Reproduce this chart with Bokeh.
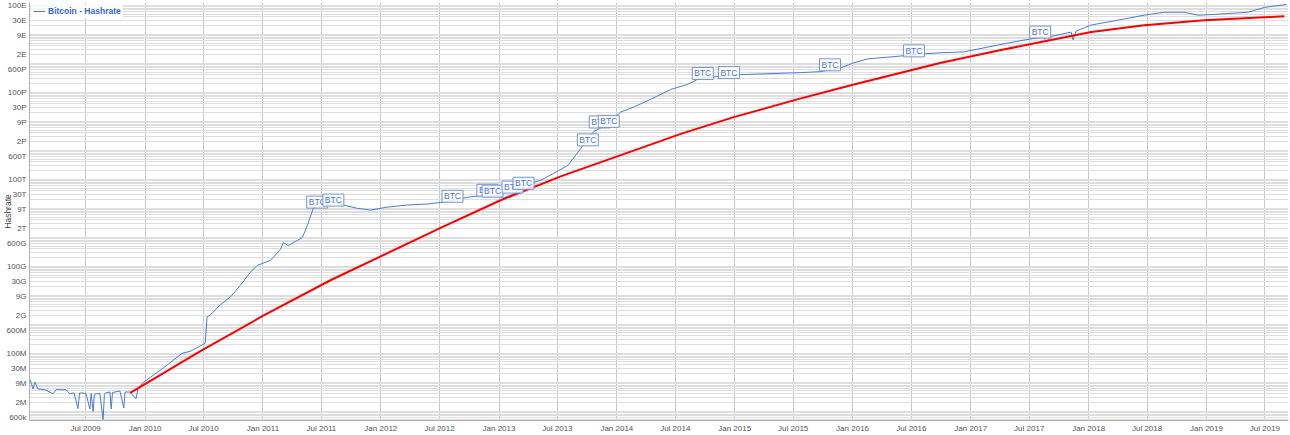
import numpy as np
import pandas as pd
from bokeh.plotting import figure
from bokeh.models import FixedTicker, Grid, CustomJSTickFormatter, Range1d
from bokeh.core.properties import value
from bokeh.embed import file_html
from bokeh.resources import INLINE

# ---------------- data ----------------
BLUE_DATES = [
    "2009-01-09", "2009-01-19", "2009-01-25", "2009-02-03", "2009-02-25", "2009-03-22",
    "2009-04-01", "2009-04-12", "2009-05-01", "2009-05-13", "2009-05-26", "2009-06-07",
    "2009-06-12", "2009-06-20", "2009-07-02", "2009-07-14", "2009-07-18", "2009-07-24",
    "2009-07-28", "2009-08-02", "2009-08-14", "2009-08-24", "2009-08-28", "2009-09-02",
    "2009-09-14", "2009-09-18", "2009-09-22", "2009-09-30", "2009-10-15", "2009-10-27",
    "2009-10-31", "2009-11-15", "2009-12-04", "2009-12-10", "2009-12-16", "2010-01-01",
    "2010-02-26", "2010-04-26", "2010-05-21", "2010-07-06", "2010-07-12", "2010-07-22",
    "2010-08-22", "2010-09-22", "2010-10-23", "2010-11-23", "2010-12-14", "2011-01-24",
    "2011-02-24", "2011-03-05", "2011-03-20", "2011-04-17", "2011-05-03", "2011-05-18",
    "2011-06-06", "2011-06-21", "2011-07-29", "2011-09-07", "2011-10-20", "2011-11-30",
    "2012-01-21", "2012-03-23", "2012-05-24", "2012-07-13", "2012-08-13", "2012-09-25",
    "2012-11-14", "2012-12-15", "2013-01-15", "2013-02-15", "2013-03-30", "2013-05-10",
    "2013-06-19", "2013-08-02", "2013-09-11", "2013-10-21", "2013-12-04", "2014-01-13",
    "2014-02-22", "2014-04-16", "2014-06-17", "2014-08-09", "2014-09-18", "2014-11-10",
    "2015-01-20", "2015-04-14", "2015-07-25", "2015-09-25", "2015-11-26", "2016-01-05",
    "2016-02-18", "2016-05-08", "2016-07-09", "2016-09-22", "2016-12-11", "2017-03-27",
    "2017-06-15", "2017-08-16", "2017-08-22", "2017-09-06", "2017-11-08", "2017-11-14",
    "2017-11-23", "2018-01-09", "2018-04-02", "2018-06-22", "2018-08-23", "2018-10-24",
    "2018-12-06", "2019-01-25", "2019-05-10", "2019-06-29", "2019-09-05",
]
BLUE_HASHRATE = [
    1.3e7, 5.9e6, 1.0e7, 5.9e6, 5.5e6, 4.0e6,
    5.6e6, 5.5e6, 5.5e6, 4.0e6, 4.3e6, 1.23e6,
    4.2e6, 4.3e6, 4.0e6, 1.2e6, 4.1e6, 9.7e5,
    3.8e6, 4.0e6, 4.0e6, 5.2e5, 3.9e6, 4.3e6,
    4.6e6, 1.2e6, 4.4e6, 4.6e6, 5.0e6, 1.3e6,
    4.6e6, 4.6e6, 2.7e6, 6.3e6, 7.5e6, 1.1e7,
    3.07e7, 1.0e8, 1.17e8, 2.2e8, 1.82e9, 2.1e9,
    4.7e9, 8.7e9, 2.2e10, 6.2e10, 1.07e11, 1.6e11,
    3.8e11, 6.6e11, 5.2e11, 7.7e11, 9.8e11, 2.5e12,
    1.0e13, 1.5e13, 1.78e13, 1.3e13, 1.0e13, 8.7e12,
    1.1e13, 1.3e13, 1.4e13, 1.65e13, 1.9e13, 2.4e13,
    2.8e13, 3.1e13, 2.3e13, 3.1e13, 6.8e13, 9.3e13,
    1.6e14, 3.0e14, 1.15e15, 4.4e15, 8.1e15, 2.1e16,
    3.1e16, 5.8e16, 1.26e17, 1.9e17, 3.2e17, 3.5e17,
    4.1e17, 4.4e17, 4.8e17, 5.2e17, 7.1e17, 1.05e18,
    1.44e18, 1.7e18, 2.0e18, 2.3e18, 2.5e18, 4.3e18,
    6.4e18, 8.1e18, 5.5e18, 8.5e18, 1.2e19, 6.4e18,
    1.3e19, 2.1e19, 3.1e19, 4.6e19, 5.8e19, 5.8e19,
    4.6e19, 4.9e19, 5.8e19, 8.5e19, 1.08e20,
]

RED_DATES = [
    "2009-11-16", "2010-06-20", "2011-01-02", "2011-07-29", "2012-07-04", "2013-01-06",
    "2013-07-11", "2014-02-13", "2014-07-18", "2014-12-29", "2015-07-25", "2016-01-05",
    "2016-10-01", "2017-04-05", "2018-01-09", "2018-06-22", "2018-12-25", "2019-06-29",
    "2019-08-30",
]
RED_TREND = [
    4.3e6, 1.17e8, 1.97e9, 3.3e10, 2.1e12, 1.9e13,
    1.26e14, 9.0e14, 3.7e15, 1.4e16, 6.2e16, 1.87e17,
    1.05e18, 2.9e18, 1.2e19, 2.08e19, 3.08e19, 3.9e19,
    4.2e19,
]

FLAG_DATES = [
    "2011-06-18", "2011-08-07", "2012-08-10", "2012-11-26", "2012-12-12", "2013-02-12",
    "2013-03-18", "2013-10-03", "2013-11-09", "2013-12-07", "2014-09-24", "2014-12-14",
    "2015-10-23", "2016-07-09", "2017-08-04",
]
FLAG_VALUES = [
    1.64e13, 1.92e13, 2.6e13, 4.2e13, 3.9e13, 5.4e13,
    7.3e13, 2.3e15, 9.5e15, 1.0e16, 4.5e17, 4.8e17,
    8.9e17, 2.7e18, 1.2e19,
]
FLAG_TEXT = "BTC"

Y_TICKS = [6e5, 2e6, 9e6, 3e7, 1e8, 6e8, 2e9, 9e9, 3e10, 1e11, 6e11, 2e12, 9e12,
           3e13, 1e14, 6e14, 2e15, 9e15, 3e16, 1e17, 6e17, 2e18, 9e18, 3e19, 1e20]
Y_LABELS = ["600k", "2M", "9M", "30M", "100M", "600M", "2G", "9G", "30G", "100G",
            "600G", "2T", "9T", "30T", "100T", "600T", "2P", "9P", "30P", "100P",
            "600P", "2E", "9E", "30E", "100E"]

X_TICK_DATES = ["2009-07-01", "2010-01-01", "2010-07-01", "2011-01-01", "2011-07-01",
                "2012-01-01", "2012-07-01", "2013-01-01", "2013-07-01", "2014-01-01",
                "2014-07-01", "2015-01-01", "2015-07-01", "2016-01-01", "2016-07-01",
                "2017-01-01", "2017-07-01", "2018-01-01", "2018-07-01", "2019-01-01",
                "2019-07-01"]
X_TICK_LABELS = ["Jul 2009", "Jan 2010", "Jul 2010", "Jan 2011", "Jul 2011",
                 "Jan 2012", "Jul 2012", "Jan 2013", "Jul 2013", "Jan 2014",
                 "Jul 2014", "Jan 2015", "Jul 2015", "Jan 2016", "Jul 2016",
                 "Jan 2017", "Jul 2017", "Jan 2018", "Jul 2018", "Jan 2019",
                 "Jul 2019"]

SERIES_NAME = "Bitcoin - Hashrate"
Y_TITLE = "Hashrate"


def to_ms(ds):
    return pd.to_datetime(ds).values.astype("datetime64[ms]").astype("int64").astype(float)


bx = to_ms(BLUE_DATES)
rx = to_ms(RED_DATES)
fx = to_ms(FLAG_DATES)
xt = to_ms(X_TICK_DATES)

X_START = to_ms(["2009-01-08"])[0]
X_END = to_ms(["2019-09-12"])[0]

FONT = "Liberation Sans"
BLUE = "#4a7bd8"
FLAG_LINE = "#7393d9"
FLAG_TXT = "#4f77cc"

p = figure(width=1290, height=435, x_axis_type="datetime", y_axis_type="log",
           output_backend="svg", toolbar_location=None,
           x_range=Range1d(X_START, X_END), y_range=Range1d(10 ** 5.68, 10 ** 20.1),
           min_border_left=2, min_border_right=2, min_border_top=2, min_border_bottom=0)

p.background_fill_color = "white"
p.outline_line_color = None

# grids
p.xgrid.ticker = FixedTicker(ticks=list(xt))
p.xgrid.grid_line_color = "#c8c8c8"
p.ygrid.grid_line_color = None
minor_vals = [m * 10.0 ** k for k in range(5, 21) for m in range(1, 10)]
hgrid = Grid(dimension=1, ticker=FixedTicker(ticks=minor_vals),
             grid_line_color="#dedede", grid_line_width=1)
p.add_layout(hgrid)

# axes
p.yaxis.ticker = FixedTicker(ticks=Y_TICKS)
p.yaxis.formatter = CustomJSTickFormatter(args=dict(vals=Y_TICKS, labs=Y_LABELS), code="""
    let best = 0, bd = 1e9;
    for (let i = 0; i < vals.length; i++) {
        const d = Math.abs(Math.log10(tick) - Math.log10(vals[i]));
        if (d < bd) { bd = d; best = i; }
    }
    return labs[best];
""")
p.xaxis.ticker = FixedTicker(ticks=list(xt))
p.xaxis.formatter = CustomJSTickFormatter(args=dict(vals=list(xt), labs=X_TICK_LABELS), code="""
    let best = 0, bd = 1e20;
    for (let i = 0; i < vals.length; i++) {
        const d = Math.abs(tick - vals[i]);
        if (d < bd) { bd = d; best = i; }
    }
    return labs[best];
""")
for ax in (p.xaxis[0], p.yaxis[0]):
    ax.major_label_text_font = FONT
    ax.major_label_text_font_size = "8px"
    ax.major_label_text_color = "#555555"
    ax.major_tick_out = 0
    ax.major_tick_in = 0
    ax.minor_tick_out = 0
    ax.minor_tick_in = 0
    ax.axis_line_color = "#b0b0b0"
p.yaxis.major_label_standoff = 3
p.xaxis.major_label_standoff = 3

p.yaxis.axis_label = Y_TITLE
p.yaxis.axis_label_text_font = FONT
p.yaxis.axis_label_text_font_size = "8.5px"
p.yaxis.axis_label_text_font_style = "normal"
p.yaxis.axis_label_text_color = "#444444"
p.yaxis.axis_label_standoff = -10

# series
p.line(bx, BLUE_HASHRATE, line_color=BLUE, line_width=1, legend_label=SERIES_NAME)
p.line(rx, RED_TREND, line_color="#ff0000", line_width=2)

# flags
for i in range(len(fx)):
    p.rect(x=[fx[i]], y=[FLAG_VALUES[i]], width=21, height=12,
           width_units="screen", height_units="screen",
           fill_color="white", fill_alpha=0.8, line_color=FLAG_LINE, line_width=1)
    p.text(x=[fx[i]], y=[FLAG_VALUES[i]], text=[FLAG_TEXT], text_align="center",
           text_baseline="middle", text_font=value(FONT), text_font_size="8.5px",
           text_color=FLAG_TXT)

# legend
lg = p.legend[0]
lg.location = "top_left"
lg.margin = 2
lg.padding = 2
lg.spacing = 0
lg.label_text_font = FONT
lg.label_text_font_size = "8.5px"
lg.label_text_font_style = "bold"
lg.label_text_color = "#3a68c8"
lg.label_standoff = 3
lg.label_height = 10
lg.glyph_width = 12
lg.glyph_height = 10
lg.background_fill_alpha = 0.85
lg.border_line_alpha = 0

open("out.html", "w").write(file_html(p, INLINE))
